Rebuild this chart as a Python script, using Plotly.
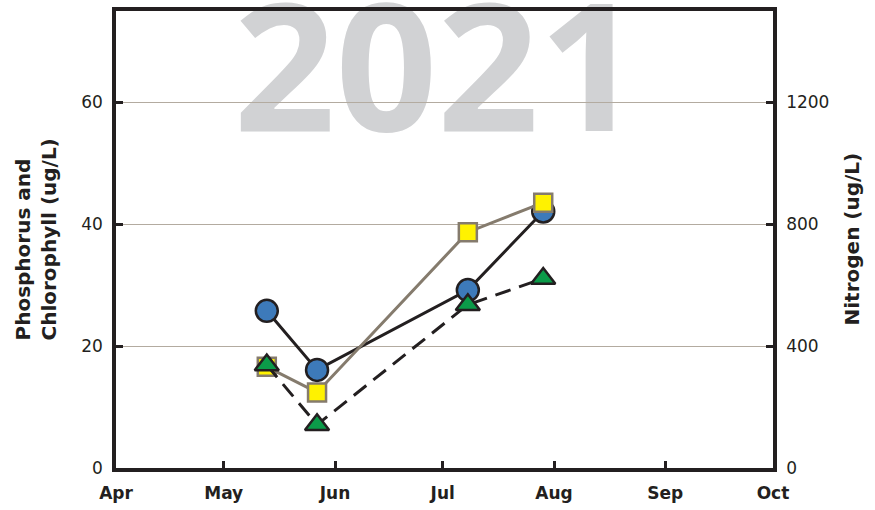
import plotly.graph_objects as go

# ---- data ----
dates = ["2021-05-13", "2021-05-27", "2021-07-08", "2021-07-29"]
phosphorus = [25.8, 16.1, 29.2, 42.1]          # blue circles, left axis
nitrogen = [332, 248, 774, 871]                # yellow squares, right axis
chlorophyll = [16.9, 7.1, 26.8, 31.1]          # green triangles, left axis

month_ticks = ["2021-04-01", "2021-05-01", "2021-06-01", "2021-07-01",
               "2021-08-01", "2021-09-01", "2021-10-01"]
month_labels = ["Apr", "May", "Jun", "Jul", "Aug", "Sep", "Oct"]
left_ticks = [0, 20, 40, 60]
right_ticks = [0, 400, 800, 1200]
year_label = "2021"

INK = "#231f20"
GRID = "#b3aba0"
BROWN = "#857b6d"

fig = go.Figure()

# watermark on a hidden bottom subplot so that gridlines of the data subplot sit above it
fig.add_trace(go.Scatter(
    x=[0.489], y=[0.835], mode="text", text=[year_label],
    textposition="middle center",
    textfont=dict(family="Open Sans", size=178, color="#d1d2d4", weight="bold"),
    xaxis="x", yaxis="y", hoverinfo="skip", showlegend=False, cliponaxis=False))

fig.add_trace(go.Scatter(
    x=dates, y=phosphorus, mode="lines+markers", name="Phosphorus",
    line=dict(color=INK, width=3),
    marker=dict(symbol="circle", size=22, color="#3d7aba", line=dict(color=INK, width=2.5)),
    xaxis="x2", yaxis="y2", showlegend=False, cliponaxis=False))

fig.add_trace(go.Scatter(
    x=dates, y=nitrogen, mode="lines+markers", name="Nitrogen",
    line=dict(color=BROWN, width=3),
    marker=dict(symbol="square", size=18, color="#fff200", line=dict(color=BROWN, width=2.5)),
    xaxis="x2", yaxis="y3", showlegend=False, cliponaxis=False))

fig.add_trace(go.Scatter(
    x=dates, y=chlorophyll, mode="lines+markers", name="Chlorophyll",
    line=dict(color=INK, width=3, dash="16px,9px"),
    marker=dict(symbol="triangle-up", size=21, color="#0b9b49", line=dict(color=INK, width=2.5)),
    xaxis="x2", yaxis="y4", showlegend=False, cliponaxis=False))

tickfont = dict(family="DejaVu Sans", size=17, color=INK)
titlefont = dict(family="DejaVu Sans", size=20, color=INK, weight="bold")

fig.update_layout(
    width=875, height=510, autosize=False,
    margin=dict(l=116, r=102, t=7, b=37),
    paper_bgcolor="white", plot_bgcolor="rgba(0,0,0,0)",
    showlegend=False,
    xaxis=dict(range=[0, 1], visible=False, domain=[0, 1], anchor="y"),
    yaxis=dict(range=[0, 1], visible=False, domain=[0, 1], anchor="x"),
    xaxis2=dict(
        type="date", range=["2021-04-01", "2021-10-01"], domain=[0, 1], anchor="y2",
        tickvals=month_ticks, ticktext=month_labels,
        ticks="inside", ticklen=7, tickwidth=3, tickcolor=INK,
        showline=True, linewidth=3.5, linecolor=INK, mirror=True,
        showgrid=False, zeroline=False,
        tickfont=dict(family="DejaVu Sans", size=17, color=INK, weight="bold"),
        ticklabelstandoff=7,
    ),
    yaxis2=dict(
        range=[0, 75], domain=[0, 1], anchor="x2", side="left",
        tickvals=left_ticks, ticktext=[str(v) for v in left_ticks],
        ticks="inside", ticklen=7, tickwidth=3, tickcolor=INK,
        showline=True, linewidth=3.5, linecolor=INK,
        showgrid=True, gridcolor=GRID, gridwidth=1.3, zeroline=False,
        tickfont=tickfont, ticklabelstandoff=6,
    ),
    yaxis3=dict(
        range=[0, 1500], overlaying="y2", anchor="x2", side="right",
        tickvals=right_ticks, ticktext=[str(v) for v in right_ticks],
        ticks="inside", ticklen=7, tickwidth=3, tickcolor=INK,
        showline=True, linewidth=3.5, linecolor=INK,
        showgrid=False, zeroline=False,
        tickfont=tickfont, ticklabelstandoff=6,
    ),
    yaxis4=dict(range=[0, 75], overlaying="y2", anchor="x2", visible=False),
    annotations=[
        dict(text="Phosphorus and<br>Chlorophyll (ug/L)", xref="paper", yref="paper",
             x=0, y=0.5, xanchor="center", yanchor="middle", xshift=-81,
             textangle=-90, align="left", showarrow=False, font=titlefont),
        dict(text="Nitrogen (ug/L)", xref="paper", yref="paper",
             x=1, y=0.5, xanchor="center", yanchor="middle", xshift=78,
             textangle=-90, showarrow=False, font=titlefont),
    ],
)

fig.write_html(
    "out.html",
    config={"displayModeBar": False, "responsive": False},
    post_script="document.body.style.margin='0px';document.body.style.overflow='hidden';",
)
